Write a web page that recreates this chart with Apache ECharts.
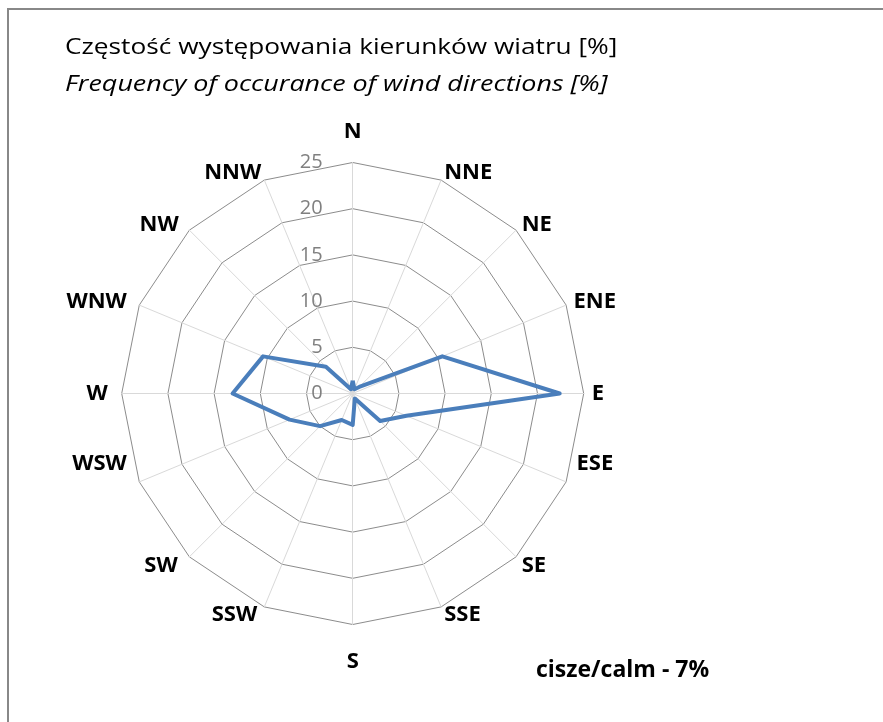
<!DOCTYPE html>
<html>
<head>
<meta charset="utf-8">
<script src="https://cdn.jsdelivr.net/npm/echarts@6/dist/echarts.min.js"></script>
<style>
html,body{margin:0;padding:0;background:#fff;}
#chart{width:883px;height:722px;}
</style>
</head>
<body>
<div id="chart"></div>
<script>
// Directions clockwise from North
var directions = ['N','NNE','NE','ENE','E','ESE','SE','SSE','S','SSW','SW','WSW','W','WNW','NW','NNW'];
// Frequency of occurrence [%]
var frequency = [1.4, 0.5, 1.0, 10.5, 22.4, 6.3, 4.2, 0.6, 3.4, 3.1, 5.0, 7.4, 13.0, 10.5, 4.1, 0.5];
var ringTicks = [0, 5, 10, 15, 20, 25];
var titleLine1 = 'Częstość występowania kierunków wiatru [%]';
var titleLine2 = 'Frequency of occurance of wind directions [%]';
var calmNote = 'cisze/calm - 7%';

var FONT = 'Open Sans';
var rMax = ringTicks[ringTicks.length - 1];
var rStep = ringTicks[1] - ringTicks[0];

// ECharts radar lays indicators counter-clockwise; reorder so they go clockwise.
var order = [0];
for (var i = directions.length - 1; i >= 1; i--) order.push(i);
var indicators = order.map(function (k) { return { name: directions[k], max: rMax, min: 0 }; });
var values = order.map(function (k) { return frequency[k]; });

// per-label nudges (padding: top, right, bottom, left) to mimic the original label placement
var labelPad = {
  N: [0, 0, 12, 0], S: [18, 0, 0, 0],
  ESE: [-21, 0, 21, 3], SE: [7, 0, 0, 0],
  SSW: [0, 4, 0, 0], SW: [7, 6, 0, 0], WSW: [-21, 5, 21, 0],
  W: [0, 6, 0, 0], WNW: [0, 5, 0, 0], NW: [0, 5, 0, 0]
};
var rich = {};
directions.forEach(function (d) {
  rich[d.toLowerCase()] = {
    fontFamily: FONT, fontSize: 22, fontWeight: 'bold', color: '#000',
    padding: labelPad[d] || [0, 0, 0, 0]
  };
});

var CX = 352.7, CY = 393.5, R = 231;

var chart = echarts.init(document.getElementById('chart'), null, { renderer: 'canvas' });
chart.setOption({
  animation: false,
  backgroundColor: '#ffffff',
  title: [{
    text: calmNote,
    left: 531, top: 654,
    textStyle: { fontFamily: FONT, fontSize: 23, fontWeight: 'bold', color: '#000' }
  }],
  graphic: [{
    type: 'rect', silent: true, z: -1,
    shape: { x: 8, y: 9, width: 900, height: 740 },
    style: { fill: 'none', stroke: '#888888', lineWidth: 2 }
  }, {
    type: 'text', x: 65, y: 48, scaleX: 1.25,
    style: { text: titleLine1, fontFamily: FONT, fontSize: 21, fill: '#000', verticalAlign: 'middle', align: 'left' }
  }, {
    type: 'text', x: 65, y: 85, scaleX: 1.28,
    style: { text: titleLine2, fontFamily: FONT, fontSize: 21, fontStyle: 'italic', fill: '#000', verticalAlign: 'middle', align: 'left' }
  }],
  radar: {
    center: [CX, CY],
    radius: R,
    startAngle: 90,
    splitNumber: rMax / rStep,
    shape: 'polygon',
    indicator: indicators,
    nameGap: 8,
    axisName: {
      color: '#000', fontFamily: FONT, fontSize: 22, fontWeight: 'bold',
      formatter: function (name) { return '{' + name.toLowerCase() + '|' + name + '}'; },
      rich: rich
    },
    splitLine: { lineStyle: { color: '#8c8c8c', width: 1 } },
    splitArea: { show: false },
    axisLine: { lineStyle: { color: '#d9d9d9', width: 1 } },
    axisTick: { show: false },
    axisLabel: { show: false }
  },
  polar: { center: [CX, CY], radius: R },
  angleAxis: { type: 'value', min: 0, max: 360, startAngle: 90, show: false },
  radiusAxis: {
    type: 'value', min: 0, max: rMax, interval: rStep,
    axisLine: { show: false }, axisTick: { show: false }, splitLine: { show: false },
    axisLabel: { color: '#808080', fontFamily: FONT, fontSize: 20, margin: 30, padding: [4, 0, 0, 0] }
  },
  series: [{
    type: 'radar',
    symbol: 'none',
    data: [{ value: values, name: 'freq' }],
    lineStyle: { color: '#4a7ebb', width: 4 },
    itemStyle: { color: '#4a7ebb' },
    areaStyle: null
  }]
});
</script>
</body>
</html>
